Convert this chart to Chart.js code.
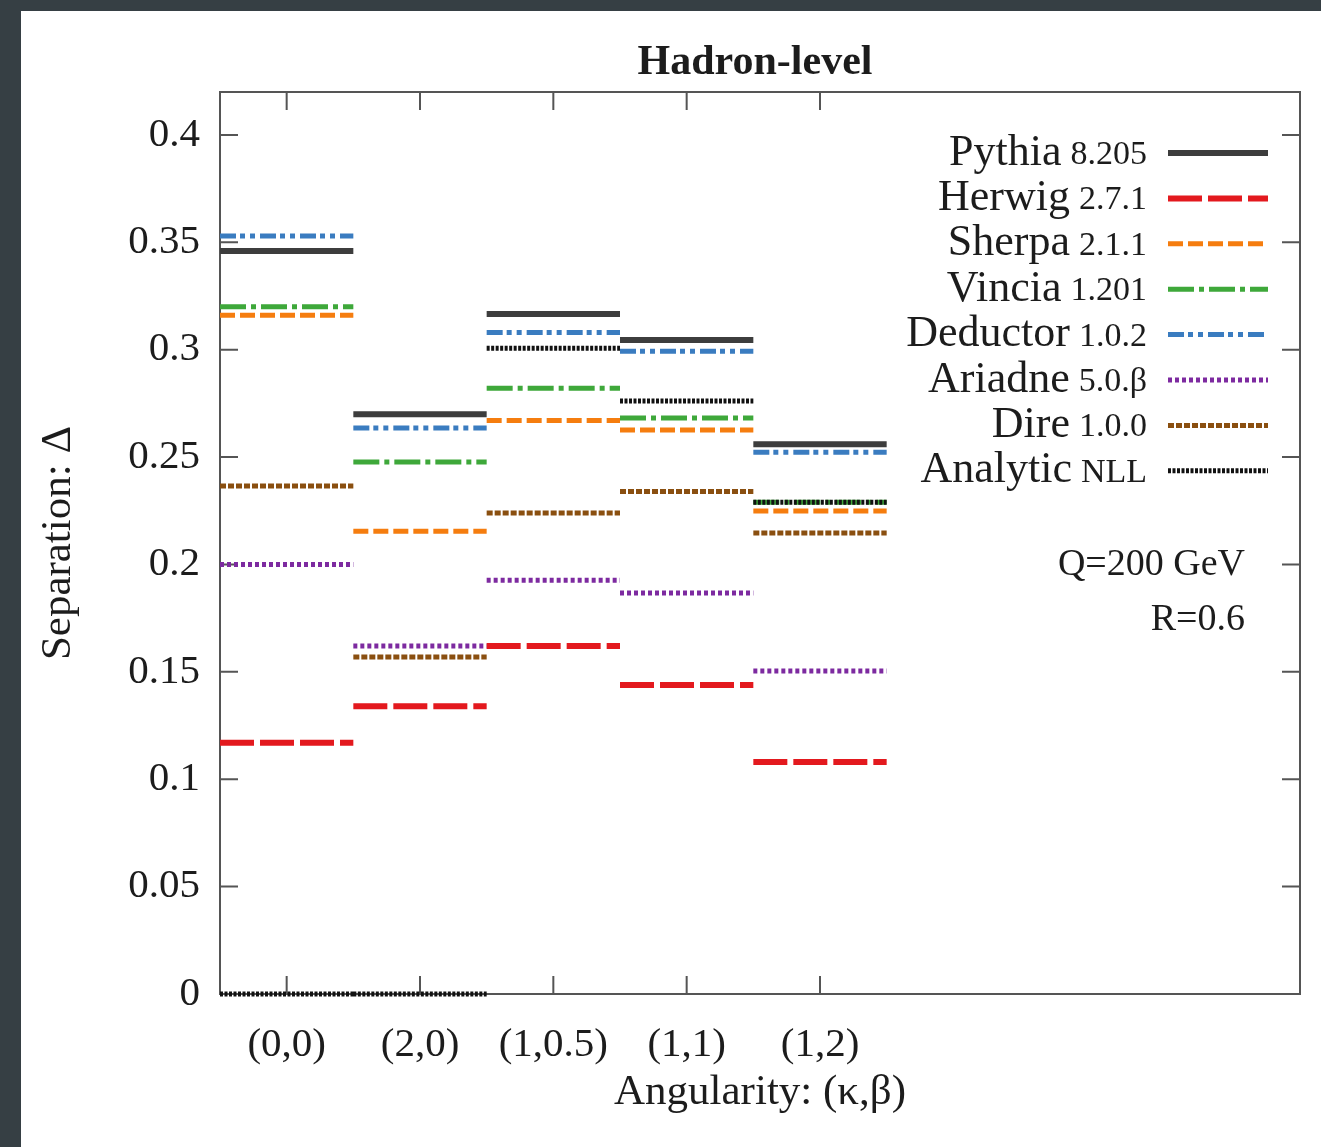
<!DOCTYPE html>
<html>
<head>
<meta charset="utf-8">
<script src="https://cdn.jsdelivr.net/npm/chart.js@4.4.1/dist/chart.umd.min.js"></script>
<style>
  html, body { margin: 0; padding: 0; }
  body { width: 1321px; height: 1147px; background: #363f44; overflow: hidden; position: relative; }
  #panel { position: absolute; left: 21px; top: 11px; width: 1300px; height: 1136px; background: #fff; }
</style>
</head>
<body>
<div id="panel"><canvas id="sepChart" width="1300" height="1136"></canvas></div>
<script>
// ----------------- Data -----------------
const categories = ['(0,0)', '(2,0)', '(1,0.5)', '(1,1)', '(1,2)'];

const pythia      = [0.346, 0.270, 0.3166, 0.3045, 0.256];
const herwig      = [0.117, 0.134, 0.162, 0.1439, 0.108];
const sherpa      = [0.316, 0.2155, 0.267, 0.2626, 0.2249];
const vincia      = [0.320, 0.2477, 0.2821, 0.2682, 0.229];
const deductor    = [0.353, 0.2635, 0.308, 0.2993, 0.2523];
const ariadne     = [0.200, 0.162, 0.1927, 0.1867, 0.1504];
const dire        = [0.2365, 0.1569, 0.224, 0.234, 0.2146];
const analyticNll = [0, 0, 0.3007, 0.2761, 0.229];

const generators = ['Pythia', 'Herwig', 'Sherpa', 'Vincia', 'Deductor', 'Ariadne', 'Dire', 'Analytic'];
const versions   = ['8.205', '2.7.1', '2.1.1', '1.201', '1.0.2', '5.0.β', '1.0.0', 'NLL'];

const SERIF = '"Liberation Serif", "DejaVu Serif", serif';
const INK = '#1c1c1c';

// ----------------- Helpers -----------------

// one flat step per category, broken between categories
function stepData(values) {
  const pts = [];
  values.forEach((v, i) => {
    pts.push({ x: i - 0.5, y: v }, { x: i + 0.5, y: v }, { x: i + 0.5, y: null });
  });
  return pts;
}

const styles = [
  { color: '#3d3d3d', dash: [],                      width: 6 },
  { color: '#e3191e', dash: [34, 6],                 width: 6 },
  { color: '#f57d0f', dash: [15, 5],                 width: 5 },
  { color: '#3ea83a', dash: [26, 5, 5, 5],           width: 5 },
  { color: '#3a7cc0', dash: [16, 4, 5, 5, 5, 5],     width: 5 },
  { color: '#7d2aa0', dash: [4, 3],                  width: 5 },
  { color: '#8a4f10', dash: [6, 2],                  width: 5 },
  { color: '#111111', dash: [3, 1.5],                width: 5 }
];

const seriesValues = [pythia, herwig, sherpa, vincia, deductor, ariadne, dire, analyticNll];

const datasets = seriesValues.map((vals, i) => ({
  label: generators[i] + ' ' + versions[i],
  data: stepData(vals),
  borderColor: styles[i].color,
  borderDash: styles[i].dash,
  borderWidth: styles[i].width,
  borderCapStyle: 'butt',
  pointRadius: 0,
  tension: 0,
  fill: false,
  spanGaps: false,
  clip: 10,
  order: i === 7 ? -1 : i
}));

// ----------------- Plugins -----------------

// box with inward ticks on all four sides
const frameTicks = {
  id: 'frameTicks',
  beforeDatasetsDraw(chart) {
    const { ctx, chartArea: a, scales: { x, y } } = chart;
    ctx.save();
    ctx.strokeStyle = '#555';
    ctx.lineWidth = 2;
    ctx.strokeRect(a.left, a.top, a.right - a.left, a.bottom - a.top);
    ctx.beginPath();
    y.ticks.forEach(t => {
      const py = y.getPixelForValue(t.value);
      ctx.moveTo(a.left, py); ctx.lineTo(a.left + 18, py);
      ctx.moveTo(a.right, py); ctx.lineTo(a.right - 18, py);
    });
    categories.forEach((c, i) => {
      const px = x.getPixelForValue(i);
      ctx.moveTo(px, a.bottom); ctx.lineTo(px, a.bottom - 18);
      ctx.moveTo(px, a.top); ctx.lineTo(px, a.top + 18);
    });
    ctx.stroke();
    ctx.restore();
  }
};

// title, key and run notes
const notes = {
  id: 'notes',
  afterDraw(chart) {
    const { ctx, chartArea: a } = chart;
    ctx.save();
    ctx.fillStyle = INK;
    ctx.textBaseline = 'middle';

    ctx.textAlign = 'center';
    ctx.font = 'bold 42px ' + SERIF;
    ctx.fillText('Hadron-level', (a.left + a.right) / 2 - 5, 52);

    const textRight = a.right - 153;
    chart.data.datasets.forEach((ds, i) => {
      const y = a.top + 61 + i * 45.4;
      ctx.textAlign = 'right';
      ctx.font = '34px ' + SERIF;
      const vw = ctx.measureText(versions[i]).width;
      ctx.fillText(versions[i], textRight, y + 2);
      ctx.font = '44px ' + SERIF;
      ctx.fillText(generators[i], textRight - vw - 9, y);

      ctx.beginPath();
      ctx.strokeStyle = ds.borderColor;
      ctx.lineWidth = ds.borderWidth;
      ctx.setLineDash(ds.borderDash);
      ctx.moveTo(a.right - 132, y);
      ctx.lineTo(a.right - 32, y);
      ctx.stroke();
      ctx.setLineDash([]);
    });

    ctx.textAlign = 'right';
    ctx.font = '38px ' + SERIF;
    ctx.fillText('Q=200 GeV', a.right - 55, 554);
    ctx.fillText('R=0.6', a.right - 55, 609);
    ctx.restore();
  }
};

// ----------------- Chart -----------------
new Chart(document.getElementById('sepChart'), {
  type: 'line',
  data: { datasets },
  options: {
    responsive: false,
    animation: false,
    layout: { padding: { top: 81, right: 21, left: 0, bottom: 0 } },
    plugins: {
      legend: { display: false },
      title: { display: false },
      tooltip: { enabled: false }
    },
    scales: {
      x: {
        type: 'linear',
        min: -0.5,
        max: 7.6,
        grid: { display: false, drawTicks: false },
        border: { display: false },
        ticks: {
          stepSize: 1,
          autoSkip: false,
          includeBounds: false,
          maxRotation: 0,
          padding: 27,
          color: INK,
          font: { family: SERIF, size: 41 },
          callback: v => (Number.isInteger(v) && categories[v]) || ''
        },
        title: {
          display: true,
          text: 'Angularity: (κ,β)',
          color: INK,
          font: { family: SERIF, size: 43 },
          padding: { top: 0, bottom: 28 }
        },
        afterFit(scale) { scale.height = 153; }
      },
      y: {
        min: 0,
        max: 0.42,
        grid: { display: false, drawTicks: false },
        border: { display: false },
        ticks: {
          stepSize: 0.05,
          includeBounds: false,
          padding: 20,
          color: INK,
          font: { family: SERIF, size: 41 },
          callback: v => String(+v.toFixed(2))
        },
        title: {
          display: true,
          text: 'Separation: Δ',
          color: INK,
          font: { family: SERIF, size: 43 },
          padding: { top: 12, bottom: 0 }
        },
        afterFit(scale) { scale.width = 199; }
      }
    }
  },
  plugins: [frameTicks, notes]
});
</script>
</body>
</html>
